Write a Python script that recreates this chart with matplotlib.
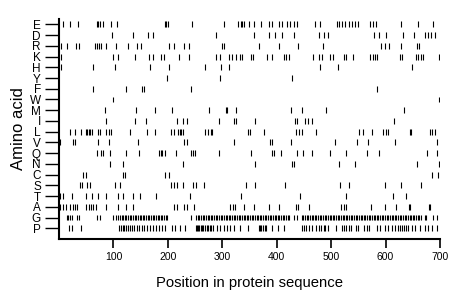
import matplotlib
matplotlib.use("Agg")
import matplotlib.pyplot as plt

# residue positions of each amino acid
amino_acids = ['E', 'D', 'R', 'K', 'H', 'Y', 'F', 'W', 'M', 'I',
               'L', 'V', 'Q', 'N', 'C', 'S', 'T', 'A', 'G', 'P']

E = [8, 21, 34, 69, 72, 76, 80, 96, 107, 194, 197, 200, 245, 303, 328, 334, 337, 340,
     349, 358, 372, 386, 392, 404, 410, 419, 424, 432, 437, 471, 480, 510, 515, 520, 526,
     532, 538, 544, 550, 571, 577, 583, 629, 660, 688]
D = [97, 136, 163, 172, 289, 358, 386, 397, 409, 431, 478, 487, 495, 578, 588, 600,
     632, 652, 672, 678, 684, 690]
R = [3, 14, 32, 36, 66, 70, 74, 78, 87, 104, 127, 143, 151, 203, 212, 230, 239, 299,
     303, 367, 404, 440, 485, 592, 599, 606, 628, 657, 662]
K = [3, 99, 108, 139, 166, 172, 187, 192, 221, 238, 288, 295, 312, 317, 325, 332, 337,
     352, 356, 383, 392, 413, 417, 422, 466, 477, 483, 498, 504, 523, 528, 541, 572, 576,
     580, 585, 626, 630, 655, 660, 665, 669, 698]
H = [3, 62, 102, 168, 203, 268, 297, 312, 479, 513, 649]
Y = [198, 296, 428]
F = [63, 123, 152, 156, 242, 585]
W = [99, 698]
M = [84, 141, 176, 207, 276, 306, 309, 325, 427, 446, 491, 634]
I = [87, 139, 160, 217, 227, 236, 294, 321, 326, 361, 434, 438, 452, 458, 465, 616]
L = [20, 29, 41, 49, 52, 55, 57, 61, 72, 75, 87, 92, 96, 131, 162, 176, 205, 211, 219,
     222, 224, 227, 268, 273, 280, 282, 348, 351, 376, 436, 441, 446, 473, 552, 558, 575,
     596, 600, 604, 644, 647, 681, 685, 690]
V = [2, 26, 29, 72, 91, 145, 230, 235, 321, 387, 391, 426, 507, 547, 567, 618, 695]
Q = [69, 78, 81, 93, 124, 147, 184, 187, 190, 195, 215, 242, 247, 250, 294, 352, 391,
     395, 407, 437, 448, 465, 497, 528, 566, 588, 677, 695]
N = [94, 118, 227, 361, 429, 432, 514, 544, 657, 699]
C = [44, 50, 118, 121, 195, 203, 685, 696]
S = [39, 43, 52, 57, 102, 112, 206, 211, 217, 227, 247, 252, 266, 343, 361, 416, 517,
     532, 599, 629, 666]
T = [1, 8, 23, 49, 60, 72, 87, 109, 118, 136, 149, 178, 241, 334, 442, 528, 614, 638]
A = [2, 8, 12, 21, 25, 29, 33, 50, 55, 59, 63, 68, 86, 109, 124, 136, 212, 217, 229,
     236, 248, 315, 319, 323, 340, 358, 385, 404, 436, 440, 460, 518, 523, 528, 574, 599,
     620, 643, 645, 679, 682]
G = [14, 17, 20, 23, 33, 37, 70, 75, 99, 104,
     109, 112, 115, 118, 121, 124, 127, 130, 133, 136, 139, 142, 145, 148, 151, 154, 157,
     160, 163, 166, 169, 172, 175, 178, 181, 184, 187, 190, 193, 196, 199, 242,
     252, 255, 258, 261, 264, 267, 270, 273, 276, 279, 282, 285, 288, 291, 294, 297, 300,
     303, 306, 309, 312, 315, 318, 321, 324, 327, 330, 333, 336, 339, 342, 345, 348, 351,
     354, 357, 360, 363, 366, 369, 372, 375, 378, 381, 384, 387, 390, 393, 396, 399, 402,
     405, 408, 411, 414, 417, 420, 423, 431, 437,
     446, 449, 452, 455, 458, 461, 464, 467, 470, 473, 476, 479, 482, 485, 488, 491, 494,
     497, 500, 503, 506, 509, 512, 515, 518, 521, 524, 527, 530, 533, 536, 539, 542, 545,
     548, 551, 554, 557, 560, 563, 566, 569, 572, 575, 578, 581, 584, 587, 590, 593, 596,
     599, 602, 605, 608, 611, 614, 617, 620, 623, 626, 629, 632, 635, 638, 641, 644, 647,
     650, 653, 656, 659, 662, 665, 672, 675, 688, 694]
P = [18, 24, 40, 110, 113, 117, 120, 124, 127, 131, 135, 138, 143, 147, 152, 157, 162,
     168, 173, 178, 183, 190, 195, 208, 213, 223, 232, 252, 254, 256, 258, 260, 263, 265,
     268, 271, 274, 277, 280, 283, 291, 296, 303, 309, 315, 321, 333, 348, 368, 370, 372,
     375, 378, 381, 391, 403, 413, 446, 450, 454, 459, 464, 472, 477, 482, 486, 489, 495,
     509, 520, 524, 528, 532, 536, 545, 550, 560, 565, 570, 585, 590, 599, 605, 611, 618,
     622, 626, 630, 634, 638, 642, 648, 654, 663, 672, 678, 685, 694]

positions = [E, D, R, K, H, Y, F, W, M, I, L, V, Q, N, C, S, T, A, G, P]
x_ticks = [100, 200, 300, 400, 500, 600, 700]

plt.rcParams['font.family'] = ['Liberation Sans', 'DejaVu Sans']

fig = plt.figure(figsize=(4.6, 2.99), dpi=100)
ax = fig.add_axes([59 / 460, 1 - 239 / 299, (440 - 59) / 460, (239 - 19) / 299])

ax.eventplot(positions, lineoffsets=range(len(amino_acids)), linelengths=0.55,
             linewidths=0.8, colors='black')

ax.set_xlim(0, 700)
ax.set_ylim(20.0, -0.5)
ax.set_yticks(range(len(amino_acids)))
ax.set_yticklabels(amino_acids, fontsize=8.5)
ax.set_xticks(x_ticks)
ax.set_xticklabels([str(t) for t in x_ticks], fontsize=7.5)
ax.tick_params(axis='y', length=10, width=1.0, pad=3)
ax.tick_params(axis='x', length=6.5, width=1.2, pad=3)

for side in ['top', 'right']:
    ax.spines[side].set_visible(False)
for side in ['left', 'bottom']:
    ax.spines[side].set_linewidth(1.5)

ax.set_xlabel('Position in protein sequence', fontsize=10.7, labelpad=10)
ax.set_ylabel('Amino acid', fontsize=12, labelpad=3)

fig.savefig('out.png', dpi=100)
